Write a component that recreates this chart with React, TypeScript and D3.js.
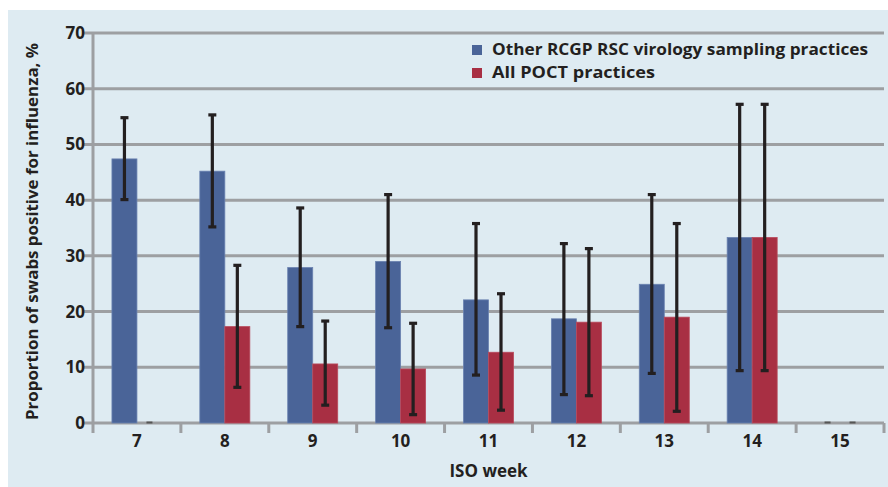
import React from "react";
import * as d3 from "d3";

const weeks = ["7", "8", "9", "10", "11", "12", "13", "14", "15"];
const seriesNames = ["Other RCGP RSC virology sampling practices", "All POCT practices"];
const otherValues = [47.4, 45.2, 27.9, 29.0, 22.1, 18.7, 24.9, 33.3, 0];
const otherLow = [40.1, 35.2, 17.3, 17.1, 8.6, 5.1, 8.9, 9.4, 0];
const otherHigh = [54.8, 55.3, 38.6, 41.0, 35.8, 32.2, 41.0, 57.2, 0];
const poctValues = [0, 17.3, 10.6, 9.7, 12.7, 18.1, 19.0, 33.3, 0];
const poctLow = [0, 6.4, 3.2, 1.5, 2.3, 4.9, 2.1, 9.4, 0];
const poctHigh = [0, 28.3, 18.3, 17.9, 23.2, 31.3, 35.8, 57.2, 0];
const yTicks = [0, 10, 20, 30, 40, 50, 60, 70];

const W = 888;
const H = 487;
const left = 93;
const right = 884;
const top = 33;
const bottom = 423;
const colors = ["#4a6498", "#a82f43"];
const grid = "#9d9fa2";
const ink = "#231f20";
const font = "'Open Sans', Roboto, sans-serif";

export default function App() {
  const x = d3.scaleBand<string>().domain(weeks).range([left, right]).paddingInner(0).paddingOuter(0);
  const y = d3.scaleLinear().domain([0, 70]).range([bottom, top]);
  const barW = 25;
  const series = [
    { v: otherValues, lo: otherLow, hi: otherHigh },
    { v: poctValues, lo: poctLow, hi: poctHigh },
  ];

  return (
    <svg width={W} height={H} style={{ position: "absolute", left: 0, top: 0, display: "block" }} fontFamily={font}>
      <rect x={8} y={10} width={W - 8} height={H - 10} fill="#deebf2" />
      {yTicks.map((t) => (
        <line key={"g" + t} x1={left - 9} x2={right} y1={y(t)} y2={y(t)} stroke={grid} strokeWidth={3} />
      ))}
      <line x1={left} x2={left} y1={top - 1} y2={bottom + 1} stroke={grid} strokeWidth={3} />
      {weeks.map((w, i) => (
        <line key={"t" + i} x1={x(w)!} x2={x(w)!} y1={bottom} y2={bottom + 10} stroke={grid} strokeWidth={3} />
      ))}
      <line x1={right} x2={right} y1={bottom} y2={bottom + 10} stroke={grid} strokeWidth={3} />
      {yTicks.map((t) => (
        <text key={"yl" + t} x={85} y={y(t) + 6} textAnchor="end" fontSize={17} fontWeight={700} fill={ink}>
          {t}
        </text>
      ))}
      {series.map((s, si) =>
        weeks.map((w, i) => {
          const cx = x(w)! + x.bandwidth() / 2;
          const bx = si === 0 ? cx - barW : cx;
          const v = s.v[i];
          return v > 0 ? (
            <rect key={"b" + si + i} x={bx} y={y(v)} width={barW} height={y(0) - y(v)} fill={colors[si]} stroke={si === 0 ? "#6a82b0" : "#b84a5c"} strokeWidth={0.8} />
          ) : null;
        })
      )}
      {series.map((s, si) =>
        weeks.map((w, i) => {
          const cx = x(w)! + x.bandwidth() / 2;
          const ex = si === 0 ? cx - barW / 2 : cx + barW / 2;
          const lo = s.lo[i];
          const hi = s.hi[i];
          if (hi === 0 && lo === 0) {
            return <line key={"z" + si + i} x1={ex - 3} x2={ex + 3} y1={y(0) - 0.5} y2={y(0) - 0.5} stroke="#555" strokeWidth={2} />;
          }
          return (
            <g key={"e" + si + i}>
              <line x1={ex} x2={ex} y1={y(hi)} y2={y(lo)} stroke={ink} strokeWidth={3.2} />
              <line x1={ex - 4} x2={ex + 4} y1={y(hi)} y2={y(hi)} stroke={ink} strokeWidth={3.2} />
              <line x1={ex - 4} x2={ex + 4} y1={y(lo)} y2={y(lo)} stroke={ink} strokeWidth={3.2} />
            </g>
          );
        })
      )}
      {weeks.map((w) => (
        <text key={"xl" + w} x={x(w)! + x.bandwidth() / 2} y={447} textAnchor="middle" fontSize={17} fontWeight={700} fill={ink}>
          {w}
        </text>
      ))}
      <text x={(left + right) / 2} y={477} textAnchor="middle" fontSize={17} fontWeight={700} fill={ink}>
        ISO week
      </text>
      <text transform={`translate(38, ${(43 + 420) / 2}) rotate(-90)`} textAnchor="middle" fontSize={16} fontWeight={700} fill={ink} textLength={377} lengthAdjust="spacingAndGlyphs">
        Proportion of swabs positive for influenza, %
      </text>
      {seriesNames.map((n, i) => (
        <g key={"lg" + i} transform={`translate(472, ${45 + i * 23})`}>
          <rect x={0} y={0} width={10} height={10} fill={colors[i]} />
          <text x={20} y={10} fontSize={16} fontWeight={700} fill={ink} textLength={i === 0 ? 376 : 163} lengthAdjust="spacingAndGlyphs">
            {n}
          </text>
        </g>
      ))}
    </svg>
  );
}
